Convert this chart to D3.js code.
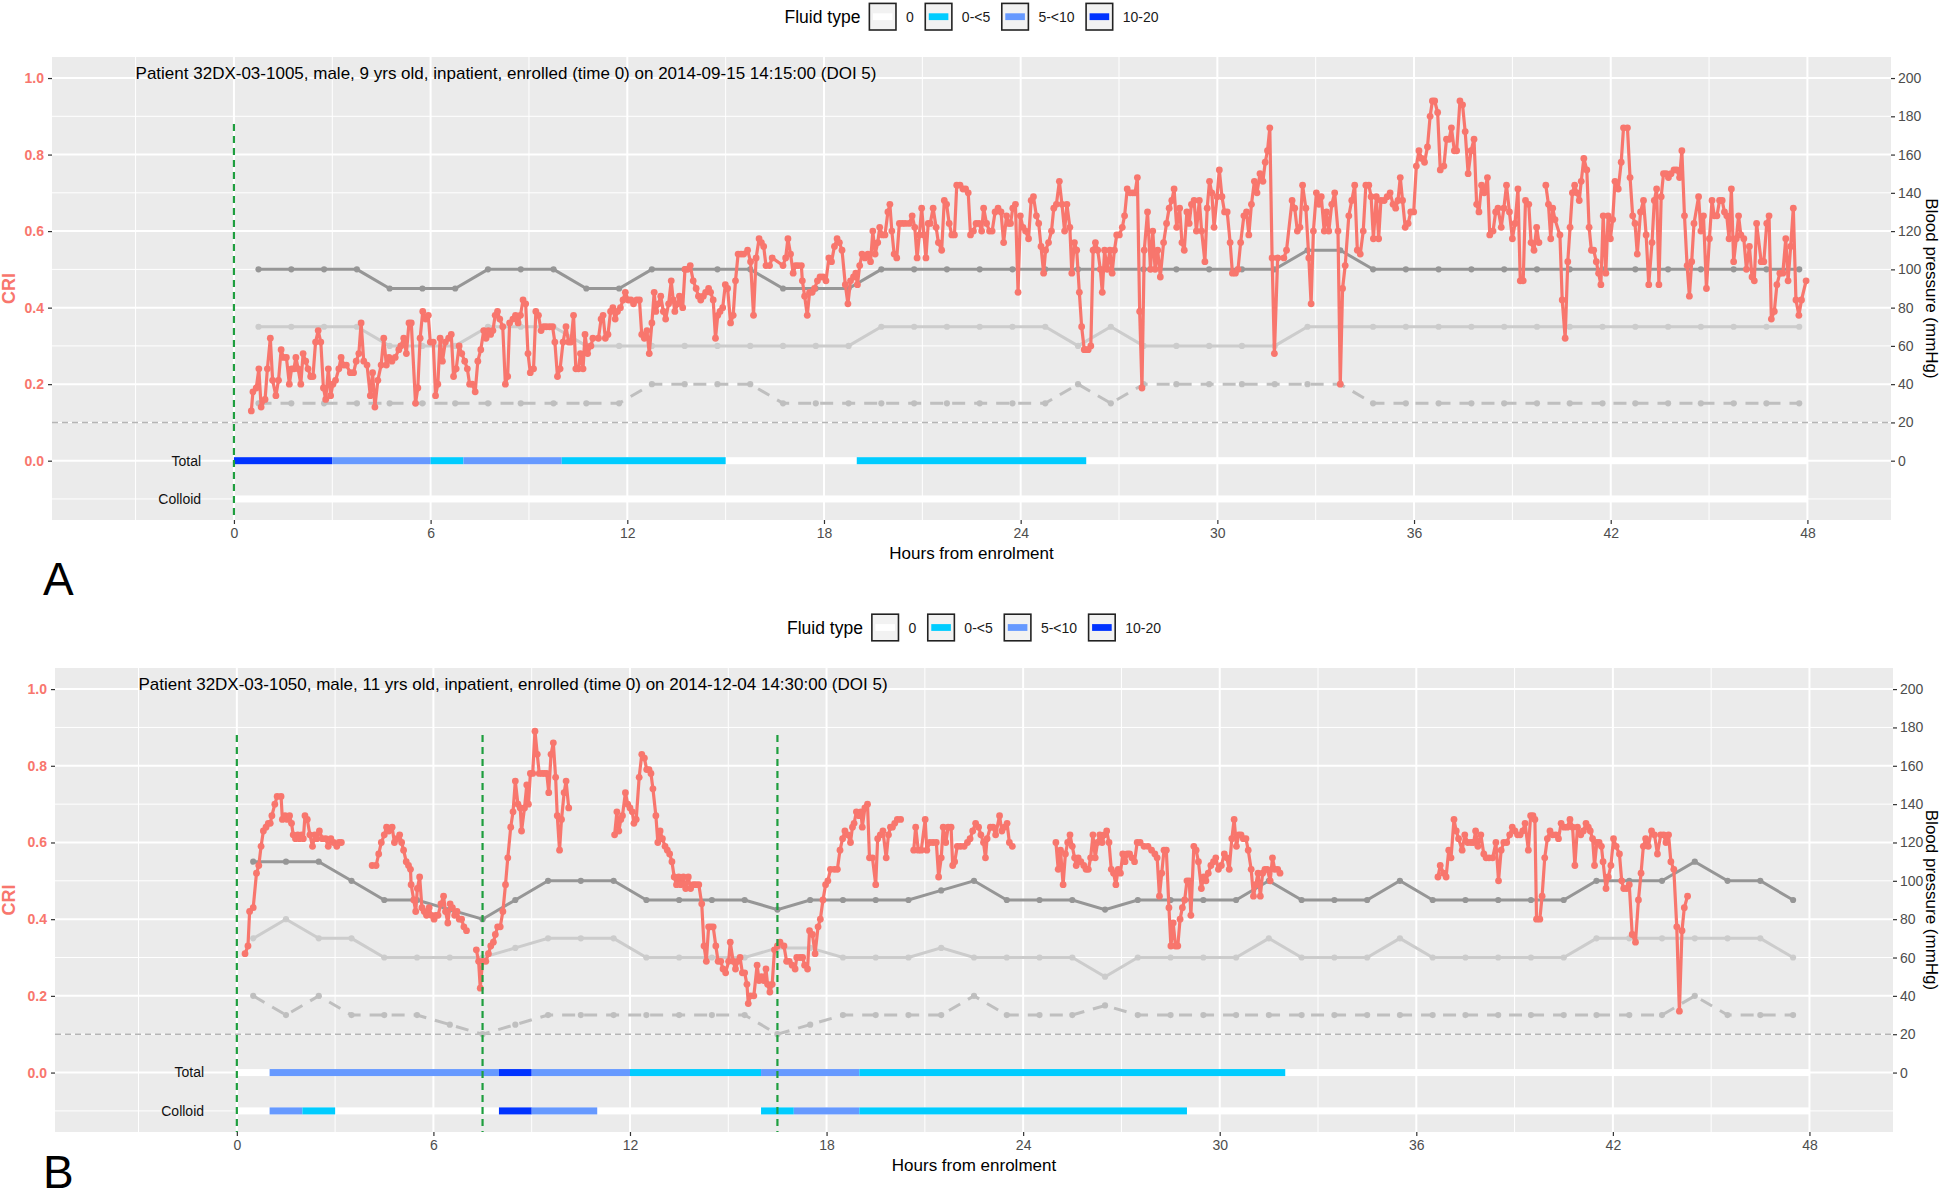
<!DOCTYPE html>
<html>
<head>
<meta charset="utf-8">
<script src="https://cdn.jsdelivr.net/npm/d3@7"></script>
<style>
  body { margin: 0; background: #fff; }
  text { font-family: "Liberation Sans", Arial, sans-serif; }
</style>
</head>
<body>
<script>
// ---- data: patient A ----
const titleA = "Patient 32DX-03-1005, male, 9 yrs old, inpatient, enrolled (time 0) on 2014-09-15 14:15:00 (DOI 5)"
const vitalStartA = 0.75
const sbpA = [100,100,100,100,90,90,90,100,100,100,90,90,100,100,100,100,90,90,90,100,100,100,100,100,100,100,100,100,100,100,100,100,110,110,100,100,100,100,100,100,100,100,100,100,100,100,100,100]
const dbpA = [70,70,70,70,60,60,60,70,70,70,60,60,60,60,60,60,60,60,60,70,70,70,70,70,70,60,70,60,60,60,60,60,70,70,70,70,70,70,70,70,70,70,70,70,70,70,70,70]
const lowA = [30,30,30,30,30,30,30,30,30,30,30,30,40,40,40,40,30,30,30,30,30,30,30,30,30,40,30,40,40,40,40,40,40,40,30,30,30,30,30,30,30,30,30,30,30,30,30,30]
const markersA = [0]
const totalA = [[0,48,"0"],[0,3,"10-20"],[3,6,"5-<10"],[6,7,"0-<5"],[7,10,"5-<10"],[10,15,"0-<5"],[19,26,"0-<5"]]
const colloidA = [[0,48,"0"]]
const criA = [
[0.53,0.13],[0.58,0.18],[0.68,0.19],[0.76,0.24],[0.83,0.14],[0.95,0.16],[1.02,0.24],[1.11,0.32],[1.18,0.21],[1.28,0.17],[1.36,0.21],[1.44,0.29],[1.51,0.27],[1.60,0.27],[1.69,0.20],[1.76,0.24],[1.83,0.24],[1.89,0.27],[1.96,0.24],[2.04,0.20],[2.11,0.28],[2.19,0.26],[2.26,0.24],[2.34,0.22],[2.41,0.22],[2.49,0.31],[2.57,0.34],[2.65,0.31],[2.73,0.19],[2.80,0.16],[2.88,0.24],[2.95,0.17],[3.02,0.20],[3.10,0.21],[3.20,0.24],[3.27,0.27],[3.35,0.25],[3.43,0.25],[3.55,0.23],[3.65,0.23],[3.73,0.26],[3.81,0.28],[3.88,0.36],[3.96,0.26],[4.06,0.25],[4.16,0.17],[4.23,0.23],[4.30,0.14],[4.39,0.21],[4.49,0.25],[4.57,0.32],[4.65,0.25],[4.73,0.27],[4.82,0.26],[4.92,0.27],[5.03,0.29],
[5.09,0.30],[5.18,0.32],[5.26,0.28],[5.34,0.36],[5.41,0.36],[5.54,0.15],[5.61,0.19],[5.68,0.32],[5.76,0.39],[5.85,0.37],[5.93,0.38],[5.99,0.31],[6.08,0.31],[6.15,0.17],[6.22,0.20],[6.29,0.32],[6.36,0.26],[6.45,0.31],[6.55,0.32],[6.63,0.33],[6.70,0.22],[6.78,0.24],[6.87,0.30],[6.95,0.28],[7.04,0.26],[7.12,0.24],[7.19,0.20],[7.27,0.20],[7.36,0.18],[7.44,0.26],[7.53,0.29],[7.62,0.34],[7.69,0.32],[7.76,0.34],[7.83,0.33],[7.90,0.34],[7.97,0.38],[8.04,0.39],[8.11,0.37],[8.20,0.35],[8.28,0.20],[8.35,0.22],[8.41,0.36],[8.51,0.37],[8.59,0.38],[8.67,0.36],[8.74,0.38],[8.82,0.42],[8.90,0.41],[8.97,0.28],[9.04,0.23],[9.14,0.24],[9.21,0.39],[9.29,0.38],[9.37,0.34],[9.45,0.35],[9.53,0.35],[9.63,0.35],[9.72,0.35],[9.79,0.31],[9.87,0.22],[9.95,0.24],[10.04,0.31],[10.13,0.35],[10.21,0.31],[10.28,0.31],[10.36,0.38],[10.43,0.24],[10.51,0.24],[10.57,0.28],[10.65,0.24],[10.71,0.33],[10.79,0.28],[10.89,0.30],[10.95,0.32],[11.12,0.32],[11.20,0.37],[11.26,0.38],[11.33,0.32],[11.41,0.33],[11.49,0.39],[11.56,0.40],[11.63,0.37],[11.70,0.39],[11.79,0.40],[11.87,0.42],[11.94,0.44],[12.03,0.42],[12.11,0.42],[12.19,0.41],[12.29,0.42],[12.37,0.42],[12.44,0.33],[12.52,0.32],[12.60,0.34],[12.67,0.28],[12.75,0.36],[12.82,0.44],[12.87,0.39],[12.95,0.41],[13.02,0.43],[13.10,0.39],[13.17,0.37],[13.26,0.41],[13.34,0.47],[13.40,0.42],[13.45,0.39],[13.54,0.41],[13.59,0.43],[13.69,0.40],[13.76,0.50],[13.84,0.50],[13.92,0.51],[14.01,0.47],[14.10,0.45],[14.17,0.43],[14.24,0.42],[14.32,0.43],[14.39,0.44],[14.48,0.45],[14.54,0.44],[14.62,0.42],[14.69,0.32],[14.76,0.38],[14.83,0.39],[14.91,0.40],[14.99,0.46],[15.06,0.45],[15.15,0.36],[15.23,0.38],[15.30,0.47],[15.38,0.54],[15.47,0.54],[15.55,0.54],[15.67,0.55],[15.76,0.52],[15.85,0.38],[15.93,0.53],[16.02,0.58],[16.09,0.57],[16.16,0.56],[16.23,0.51],[16.34,0.51],[16.42,0.53],
[16.75,0.51],[16.83,0.53],[16.90,0.58],[16.98,0.54],[17.06,0.49],[17.13,0.51],[17.21,0.51],[17.31,0.51],[17.34,0.47],[17.41,0.43],[17.49,0.38],[17.56,0.44],[17.64,0.44],[17.71,0.45],[17.80,0.47],[17.88,0.48],[17.97,0.48],[18.06,0.47],[18.15,0.53],[18.23,0.52],[18.32,0.56],[18.40,0.58],[18.47,0.57],[18.55,0.55],[18.65,0.46],[18.73,0.41],[18.81,0.47],[18.90,0.48],[18.97,0.49],[19.02,0.46],[19.09,0.51],[19.16,0.54],[19.25,0.53],[19.34,0.54],[19.42,0.52],[19.49,0.60],[19.56,0.54],[19.64,0.57],[19.70,0.61],[19.78,0.59],[19.86,0.59],[19.95,0.65],[20.01,0.67],[20.07,0.60],[20.14,0.54],[20.22,0.53],[20.30,0.62],[20.39,0.62],[20.48,0.62],[20.60,0.62],[20.69,0.64],[20.77,0.61],[20.84,0.53],[20.91,0.59],[20.98,0.66],[21.05,0.59],[21.11,0.53],[21.18,0.62],[21.24,0.62],[21.33,0.66],[21.42,0.61],[21.49,0.57],[21.59,0.55],[21.67,0.68],[21.74,0.67],[21.82,0.62],[21.90,0.59],[21.98,0.59],[22.05,0.72],[22.15,0.72],[22.24,0.71],[22.32,0.71],[22.40,0.70],[22.47,0.59],[22.56,0.60],[22.64,0.62],[22.73,0.62],[22.81,0.60],[22.87,0.66],[22.96,0.62],[23.05,0.60],[23.13,0.60],[23.22,0.65],[23.31,0.66],[23.40,0.65],[23.48,0.57],[23.57,0.64],[23.64,0.62],[23.69,0.62],[23.76,0.66],[23.84,0.67],[23.92,0.44],[23.99,0.64],[24.07,0.61],[24.15,0.60],[24.24,0.58],[24.32,0.68],[24.39,0.69],[24.48,0.64],[24.55,0.62],[24.62,0.56],[24.70,0.49],[24.76,0.55],[24.85,0.57],[24.94,0.60],[25.01,0.66],[25.09,0.67],[25.18,0.73],[25.26,0.67],[25.34,0.60],[25.41,0.67],[25.50,0.61],[25.56,0.49],[25.64,0.57],[25.71,0.55],[25.79,0.44],[25.86,0.35],[25.94,0.29],[25.99,0.29],[26.06,0.29],[26.14,0.30],[26.21,0.55],[26.28,0.57],[26.35,0.55],[26.43,0.50],[26.49,0.44],[26.56,0.55],[26.64,0.50],[26.72,0.55],[26.79,0.49],[26.86,0.55],[26.93,0.59],[27.01,0.59],[27.10,0.61],[27.17,0.64],[27.25,0.71],[27.34,0.70],[27.42,0.70],[27.49,0.70],[27.56,0.74],[27.63,0.39],[27.70,0.19],[27.77,0.55],[27.87,0.65],[27.96,0.50],[28.03,0.60],[28.10,0.50],[28.18,0.55],[28.26,0.48],[28.36,0.57],[28.45,0.62],[28.53,0.66],[28.61,0.68],[28.68,0.71],[28.76,0.61],[28.85,0.66],[28.92,0.57],[28.99,0.55],[29.07,0.65],[29.14,0.62],[29.21,0.67],[29.29,0.68],[29.36,0.60],[29.45,0.68],[29.52,0.60],[29.62,0.52],[29.69,0.66],[29.76,0.73],[29.83,0.70],[29.90,0.61],[29.99,0.69],[30.06,0.76],[30.14,0.69],[30.22,0.65],[30.30,0.65],[30.39,0.57],[30.46,0.49],[30.55,0.49],[30.63,0.50],[30.71,0.57],[30.81,0.64],[30.89,0.65],[30.96,0.59],[31.04,0.67],[31.13,0.73],[31.21,0.70],[31.30,0.75],[31.39,0.73],[31.46,0.78],[31.53,0.81],[31.60,0.87],[31.67,0.53],[31.74,0.28],[31.84,0.53],[32.03,0.53],[32.11,0.55],[32.28,0.68],[32.36,0.66],[32.44,0.60],[32.52,0.61],[32.60,0.72],[32.70,0.66],[32.79,0.53],[32.86,0.41],[32.93,0.60],[33.02,0.70],[33.10,0.67],[33.17,0.69],[33.26,0.60],[33.33,0.65],[33.40,0.60],[33.49,0.67],[33.58,0.70],[33.68,0.60],[33.75,0.20],[33.82,0.45],[33.90,0.51],
[34.01,0.64],[34.10,0.68],[34.19,0.72],[34.27,0.55],[34.36,0.54],[34.45,0.60],[34.53,0.72],[34.62,0.72],[34.69,0.69],[34.76,0.58],[34.85,0.69],[34.92,0.58],[34.99,0.68],[35.09,0.68],[35.18,0.69],[35.27,0.70],[35.36,0.67],[35.44,0.66],[35.51,0.68],[35.58,0.74],[35.65,0.68],[35.73,0.61],[35.82,0.62],[35.90,0.65],[35.99,0.65],[36.07,0.77],[36.15,0.81],[36.23,0.79],[36.32,0.78],[36.41,0.82],[36.49,0.90],[36.56,0.94],[36.63,0.94],[36.72,0.91],[36.80,0.76],[36.91,0.77],[36.99,0.84],[37.07,0.84],[37.14,0.87],[37.23,0.81],[37.30,0.81],[37.40,0.94],[37.48,0.93],[37.56,0.86],[37.65,0.75],[37.74,0.81],[37.83,0.84],[37.91,0.67],[37.98,0.65],[38.06,0.72],[38.14,0.70],[38.24,0.74],[38.31,0.59],[38.41,0.60],[38.49,0.65],[38.56,0.66],[38.66,0.61],[38.74,0.66],[38.82,0.72],[38.91,0.65],[39.00,0.58],[39.08,0.62],[39.17,0.71],[39.24,0.47],[39.33,0.47],[39.40,0.68],[39.50,0.67],[39.57,0.57],[39.66,0.55],[39.74,0.61],[39.81,0.57],null,
[40.02,0.72],[40.10,0.67],[40.17,0.58],[40.23,0.66],[40.30,0.63],[40.45,0.59],[40.52,0.42],[40.61,0.32],[40.69,0.52],[40.76,0.61],[40.83,0.70],[40.90,0.72],[40.97,0.70],[41.04,0.68],[41.10,0.73],[41.18,0.79],[41.27,0.76],[41.34,0.61],[41.41,0.55],[41.48,0.55],[41.56,0.52],[41.63,0.49],[41.70,0.46],[41.77,0.64],[41.85,0.49],[41.92,0.64],[41.99,0.58],[42.06,0.63],[42.13,0.73],[42.23,0.71],[42.32,0.78],[42.39,0.87],[42.51,0.87],[42.59,0.74],[42.67,0.64],[42.74,0.62],[42.81,0.54],[42.91,0.65],[43.00,0.68],[43.08,0.59],[43.16,0.46],[43.26,0.57],[43.33,0.68],[43.40,0.71],[43.47,0.46],[43.54,0.69],[43.61,0.75],[43.69,0.75],[43.76,0.74],[43.84,0.75],[43.93,0.76],[44.01,0.76],[44.10,0.74],[44.17,0.81],[44.25,0.64],[44.33,0.51],[44.40,0.43],[44.47,0.52],[44.54,0.62],[44.68,0.69],[44.75,0.60],[44.83,0.64],[44.92,0.45],[45.01,0.58],[45.09,0.68],[45.16,0.64],[45.24,0.64],[45.32,0.68],[45.40,0.68],[45.47,0.65],[45.54,0.64],[45.61,0.58],[45.68,0.71],[45.75,0.52],[45.83,0.58],[45.90,0.64],[45.97,0.59],[46.06,0.58],[46.14,0.50],[46.23,0.56],[46.31,0.48],[46.38,0.47],[46.45,0.62],[46.59,0.52],[46.67,0.52],[46.76,0.62],[46.83,0.64],[46.90,0.37],[46.99,0.39],[47.07,0.46],[47.16,0.49],[47.25,0.49],[47.34,0.58],[47.41,0.47],[47.49,0.56],[47.57,0.66],[47.65,0.42],[47.74,0.38],[47.82,0.42],[47.96,0.47]
]

// ---- data: patient B ----
const titleB = "Patient 32DX-03-1050, male, 11 yrs old, inpatient, enrolled (time 0) on 2014-12-04 14:30:00 (DOI 5)"
const vitalStartB = 0.5
const sbpB = [110,110,110,100,90,90,85,80,90,100,100,100,90,90,90,90,85,90,90,90,90,95,100,90,90,90,85,90,90,90,90,100,90,90,90,100,90,90,90,90,90,100,100,100,110,100,100,90]
const dbpB = [70,80,70,70,60,60,60,60,65,70,70,70,60,60,60,60,65,65,60,60,60,65,60,60,60,60,50,60,60,60,60,70,60,60,60,70,60,60,60,60,60,70,70,70,70,70,70,60]
const lowB = [40,30,40,30,30,30,25,20,25,30,30,30,30,30,30,30,20,25,30,30,30,30,40,30,30,30,35,30,30,30,30,30,30,30,30,30,30,30,30,30,30,30,30,30,40,30,30,30]
const markersB = [0, 7.5, 16.5]
const totalB = [[0,48,"0"],[1,8,"5-<10"],[8,9,"10-20"],[9,12,"5-<10"],[12,16,"0-<5"],[16,19,"5-<10"],[19,32,"0-<5"]]
const colloidB = [[0,48,"0"],[1,2,"5-<10"],[2,3,"0-<5"],[8,9,"10-20"],[9,11,"5-<10"],[16,17,"0-<5"],[17,19,"5-<10"],[19,29,"0-<5"]]
const criB = [
[0.25,0.31],[0.34,0.33],[0.39,0.42],[0.50,0.43],[0.60,0.52],[0.67,0.54],[0.74,0.59],[0.81,0.63],[0.89,0.64],[0.96,0.65],[1.02,0.65],[1.07,0.67],[1.16,0.70],[1.23,0.72],[1.35,0.72],[1.39,0.66],[1.47,0.67],[1.54,0.66],[1.61,0.67],[1.67,0.65],[1.72,0.62],[1.79,0.61],[1.86,0.62],[1.91,0.61],[1.98,0.62],[2.03,0.61],[2.08,0.67],[2.15,0.66],[2.23,0.62],[2.31,0.59],[2.38,0.62],[2.44,0.61],[2.52,0.63],[2.61,0.61],[2.71,0.61],[2.79,0.59],[2.87,0.61],[2.95,0.60],[3.05,0.59],[3.12,0.60],[3.19,0.60],null,
[4.13,0.54],[4.25,0.54],[4.33,0.57],[4.41,0.60],[4.50,0.62],[4.57,0.64],[4.64,0.63],[4.74,0.64],[4.81,0.60],[4.88,0.61],[4.97,0.62],[5.03,0.60],[5.09,0.58],[5.17,0.55],[5.24,0.54],[5.30,0.53],[5.32,0.49],[5.40,0.45],[5.46,0.42],[5.51,0.48],[5.58,0.51],[5.65,0.43],[5.72,0.42],[5.79,0.41],[5.87,0.43],[5.94,0.41],[6.02,0.40],[6.07,0.41],[6.14,0.41],[6.23,0.44],[6.31,0.46],[6.37,0.42],[6.44,0.39],[6.51,0.44],[6.58,0.43],[6.65,0.41],[6.72,0.42],[6.79,0.40],[6.86,0.40],[6.93,0.38],[7.01,0.37],null,
[7.31,0.32],[7.38,0.29],[7.43,0.22],[7.50,0.29],[7.60,0.29],[7.68,0.31],[7.75,0.33],[7.83,0.34],[7.89,0.36],[7.96,0.38],[8.04,0.38],[8.12,0.42],[8.20,0.49],[8.27,0.56],[8.36,0.64],[8.43,0.68],[8.50,0.76],[8.58,0.70],[8.65,0.69],[8.69,0.63],[8.78,0.69],[8.85,0.75],[8.90,0.70],[8.96,0.78],[9.03,0.78],[9.10,0.89],[9.17,0.83],[9.23,0.78],[9.32,0.78],[9.39,0.78],[9.46,0.78],[9.52,0.73],[9.59,0.83],[9.66,0.86],[9.73,0.77],[9.78,0.67],[9.85,0.58],[9.91,0.66],[9.99,0.73],[10.05,0.76],[10.13,0.69],null,
[11.53,0.62],[11.60,0.68],[11.66,0.63],[11.72,0.66],[11.77,0.67],[11.86,0.73],[11.93,0.70],[12.00,0.69],[12.07,0.68],[12.12,0.65],[12.19,0.66],[12.28,0.77],[12.36,0.83],[12.44,0.82],[12.51,0.79],[12.58,0.79],[12.64,0.78],[12.70,0.74],[12.79,0.67],[12.85,0.60],[12.92,0.63],[12.99,0.61],[13.07,0.59],[13.14,0.58],[13.21,0.57],[13.28,0.55],[13.35,0.51],[13.42,0.49],[13.49,0.51],[13.55,0.49],[13.63,0.51],[13.70,0.48],[13.78,0.51],[13.85,0.48],[13.93,0.49],[14.01,0.49],[14.10,0.49],[14.19,0.44],[14.26,0.33],[14.33,0.29],[14.40,0.38],[14.47,0.38],[14.54,0.38],[14.62,0.33],[14.69,0.29],[14.77,0.29],[14.84,0.27],[14.92,0.26],[15.01,0.29],[15.06,0.34],[15.15,0.29],[15.22,0.27],[15.29,0.29],[15.36,0.30],[15.43,0.26],[15.50,0.26],[15.57,0.23],[15.61,0.18],[15.68,0.20],[15.78,0.20],[15.88,0.28],[15.94,0.24],[16.01,0.25],[16.08,0.24],[16.15,0.27],[16.20,0.23],[16.27,0.21],[16.34,0.23],[16.41,0.32],[16.50,0.33],[16.58,0.34],[16.70,0.33],[16.78,0.29],[16.86,0.29],[16.95,0.28],[17.04,0.27],[17.09,0.30],[17.19,0.30],[17.27,0.30],[17.33,0.28],[17.42,0.27],[17.48,0.37],[17.57,0.36],[17.65,0.31],[17.74,0.38],[17.81,0.40],[17.89,0.45],[17.97,0.49],[18.04,0.50],[18.12,0.53],[18.24,0.53],[18.33,0.53],[18.41,0.58],[18.49,0.61],[18.56,0.63],[18.65,0.62],[18.73,0.60],[18.79,0.64],[18.84,0.65],[18.91,0.68],[18.99,0.67],[19.05,0.68],[19.09,0.64],[19.17,0.69],[19.25,0.70],[19.31,0.56],[19.40,0.56],[19.50,0.49],[19.56,0.61],[19.64,0.62],[19.72,0.63],[19.82,0.56],[19.89,0.62],[19.95,0.64],[20.01,0.64],[20.08,0.65],[20.16,0.66],[20.26,0.66],null,
[20.66,0.58],[20.72,0.64],[20.80,0.58],[20.89,0.58],[21.01,0.66],[21.06,0.58],[21.15,0.60],[21.25,0.60],[21.35,0.60],[21.42,0.51],[21.50,0.56],[21.56,0.64],[21.64,0.60],[21.71,0.64],[21.80,0.64],[21.85,0.54],[21.91,0.55],[21.99,0.59],[22.09,0.59],[22.20,0.59],[22.30,0.60],[22.38,0.61],[22.46,0.63],[22.55,0.65],[22.64,0.64],[22.71,0.62],[22.79,0.60],[22.85,0.56],[22.90,0.61],[23.00,0.64],[23.08,0.64],[23.16,0.62],[23.28,0.67],[23.35,0.63],[23.43,0.64],[23.51,0.65],[23.58,0.60],[23.67,0.59],null,
[25.00,0.60],[25.07,0.53],[25.14,0.58],[25.22,0.49],[25.29,0.57],[25.36,0.60],[25.43,0.62],[25.50,0.59],[25.57,0.56],[25.62,0.54],[25.68,0.56],[25.76,0.55],[25.85,0.54],[25.92,0.53],[25.99,0.53],[26.06,0.56],[26.13,0.62],[26.20,0.56],[26.27,0.60],[26.34,0.62],[26.41,0.60],[26.48,0.62],[26.55,0.63],[26.62,0.60],[26.69,0.53],[26.76,0.52],[26.83,0.49],[26.90,0.53],[26.97,0.52],[27.04,0.57],[27.11,0.55],[27.18,0.57],[27.25,0.57],[27.32,0.56],[27.40,0.55],[27.48,0.60],[27.57,0.60],[27.69,0.59],[27.81,0.59],[27.92,0.58],[28.02,0.57],[28.09,0.56],[28.16,0.46],[28.23,0.52],[28.30,0.58],[28.37,0.58],[28.45,0.43],[28.51,0.33],[28.58,0.39],[28.65,0.33],[28.72,0.33],[28.79,0.40],[28.86,0.43],[28.93,0.45],[29.00,0.50],[29.07,0.50],[29.12,0.41],[29.21,0.59],[29.28,0.58],[29.35,0.55],[29.44,0.48],[29.51,0.51],[29.58,0.50],[29.65,0.52],[29.73,0.54],[29.81,0.55],[29.88,0.56],[29.96,0.53],[30.05,0.54],[30.14,0.57],[30.22,0.56],[30.29,0.53],[30.37,0.61],[30.44,0.66],[30.51,0.59],[30.58,0.62],[30.65,0.62],[30.72,0.61],[30.80,0.61],[30.87,0.58],[30.96,0.53],[31.03,0.46],[31.10,0.49],[31.17,0.52],[31.24,0.46],[31.31,0.52],[31.38,0.53],[31.45,0.53],[31.54,0.50],[31.61,0.56],[31.68,0.53],[31.77,0.53],[31.84,0.52],null,
[36.66,0.51],[36.73,0.54],[36.83,0.52],[36.91,0.51],[36.99,0.58],[37.06,0.56],[37.15,0.66],[37.22,0.63],[37.29,0.61],[37.40,0.58],[37.48,0.62],[37.57,0.60],[37.67,0.60],[37.75,0.60],[37.81,0.63],[37.88,0.59],[37.97,0.62],[38.06,0.57],[38.13,0.56],[38.22,0.56],[38.33,0.56],[38.43,0.60],[38.51,0.50],[38.59,0.58],[38.67,0.60],[38.76,0.60],[38.85,0.62],[38.93,0.64],[39.01,0.63],[39.09,0.62],[39.17,0.62],[39.25,0.63],[39.32,0.65],[39.42,0.58],[39.49,0.67],[39.56,0.67],[39.62,0.66],[39.67,0.40],[39.77,0.40],[39.84,0.46],[39.92,0.56],[40.00,0.61],[40.08,0.63],[40.16,0.62],[40.26,0.62],[40.34,0.61],[40.42,0.65],[40.51,0.64],[40.61,0.64],[40.69,0.66],[40.77,0.64],[40.84,0.54],[40.92,0.64],[41.02,0.62],[41.10,0.63],[41.18,0.65],[41.25,0.64],[41.31,0.63],[41.38,0.61],[41.44,0.54],[41.51,0.60],[41.58,0.60],[41.65,0.59],[41.70,0.55],[41.79,0.48],[41.86,0.51],[41.94,0.54],[42.02,0.61],[42.10,0.59],[42.20,0.57],[42.27,0.50],[42.33,0.48],[42.42,0.48],[42.50,0.49],[42.59,0.36],[42.69,0.34],[42.78,0.45],[42.86,0.52],[42.93,0.59],[43.00,0.61],[43.08,0.59],[43.18,0.63],[43.27,0.62],[43.36,0.57],[43.46,0.62],[43.55,0.62],[43.62,0.60],[43.70,0.62],[43.77,0.55],[43.86,0.53],[43.95,0.38],[44.03,0.16],[44.11,0.37],[44.18,0.43],[44.28,0.46]
]

// ---- shared ----
const fluidTypes = ["0", "0-<5", "5-<10", "10-20"]
const fluidColors = ["#FFFFFF", "#00CCFF", "#6699FF", "#0033FF"]
const xTicks = [0, 6, 12, 18, 24, 30, 36, 42, 48]
const criTicks = [0, 0.2, 0.4, 0.6, 0.8, 1.0]
const bpTicks = [0, 20, 40, 60, 80, 100, 120, 140, 160, 180, 200]

const width = 1944, height = 1198
const svg = d3.select("body").append("svg")
    .attr("width", width).attr("height", height)

const fluidColor = d3.scaleOrdinal().domain(fluidTypes).range(fluidColors)

function drawPanel(p) {
  const x = d3.scaleLinear().domain([-5.55, 50.55]).range([p.left, p.left + p.w])
  const y = d3.scaleLinear().domain([-0.155, 1.055]).range([p.top + p.h, p.top])
  const y2 = d3.scaleLinear().domain([-0.155 * 200, 1.055 * 200]).range([p.top + p.h, p.top])
  const g = svg.append("g")

  // legend
  const leg = g.append("g")
  const lt = leg.append("text").attr("x", 0).attr("y", p.legendY + 6)
      .attr("font-size", 17.5).attr("fill", "#000").text("Fluid type")
  let cx = lt.node().getComputedTextLength() + 9
  fluidTypes.forEach((t, i) => {
    leg.append("rect").attr("x", cx).attr("y", p.legendY - 13.3)
        .attr("width", 26.6).attr("height", 26.6)
        .attr("fill", "#F2F2F2").attr("stroke", "#222").attr("stroke-width", 1.6)
    leg.append("rect").attr("x", cx + 3.5).attr("y", p.legendY - 3.4)
        .attr("width", 19.6).attr("height", 6.8).attr("fill", fluidColors[i])
    cx += 26.6 + 10
    const tt = leg.append("text").attr("x", cx).attr("y", p.legendY + 5)
        .attr("font-size", 14).attr("fill", "#1a1a1a").text(t)
    cx += tt.node().getComputedTextLength() + 11.5
  })
  cx -= 11.5
  leg.attr("transform", `translate(${p.left + p.w / 2 - cx / 2},0)`)

  // panel background + grid
  g.append("rect").attr("x", p.left).attr("y", p.top).attr("width", p.w).attr("height", p.h)
      .attr("fill", "#EBEBEB")
  const minorX = d3.range(-3, 48, 6), minorY = d3.range(-0.1, 1, 0.2)
  g.selectAll(".mx").data(minorX).join("line")
      .attr("x1", d => x(d)).attr("x2", d => x(d)).attr("y1", p.top).attr("y2", p.top + p.h)
      .attr("stroke", "#fff").attr("stroke-width", 1)
  g.selectAll(".my").data(minorY).join("line")
      .attr("y1", d => y(d)).attr("y2", d => y(d)).attr("x1", p.left).attr("x2", p.left + p.w)
      .attr("stroke", "#fff").attr("stroke-width", 1)
  g.selectAll(".Mx").data(xTicks).join("line")
      .attr("x1", d => x(d)).attr("x2", d => x(d)).attr("y1", p.top).attr("y2", p.top + p.h)
      .attr("stroke", "#fff").attr("stroke-width", 2)
  g.selectAll(".My").data(criTicks).join("line")
      .attr("y1", d => y(d)).attr("y2", d => y(d)).attr("x1", p.left).attr("x2", p.left + p.w)
      .attr("stroke", "#fff").attr("stroke-width", 2)

  // reference line at CRI 0.1
  g.append("line").attr("x1", p.left).attr("x2", p.left + p.w)
      .attr("y1", y(0.1)).attr("y2", y(0.1))
      .attr("stroke", "#B5B5B5").attr("stroke-width", 1.5).attr("stroke-dasharray", "6,4")

  // fluid bars
  const rows = [[0, p.total], [-0.1, p.colloid]]
  rows.forEach(([ry, segs]) => {
    g.append("g").selectAll("rect").data(segs).join("rect")
        .attr("x", d => x(d[0])).attr("width", d => x(d[1]) - x(d[0]))
        .attr("y", y(ry) - 3.5).attr("height", 7)
        .attr("fill", d => fluidColor(d[2]))
  })
  g.append("text").attr("x", x(-1)).attr("y", y(0)).attr("dy", "0.35em")
      .attr("text-anchor", "end").attr("font-size", 14).attr("fill", "#111").text("Total")
  g.append("text").attr("x", x(-1)).attr("y", y(-0.1)).attr("dy", "0.35em")
      .attr("text-anchor", "end").attr("font-size", 14).attr("fill", "#111").text("Colloid")

  // blood pressure series (hourly)
  const bpSeries = [
    { v: p.low, color: "#BFBFBF", dash: "13,9" },
    { v: p.dbp, color: "#CCCCCC", dash: null },
    { v: p.sbp, color: "#969696", dash: null }
  ]
  const bpLine = d3.line().x(d => x(d[0])).y(d => y2(d[1]))
  bpSeries.forEach(s => {
    const pts = s.v.map((v, k) => [p.start + k, v])
    g.append("path").datum(pts).attr("d", bpLine)
        .attr("fill", "none").attr("stroke", s.color).attr("stroke-width", 3)
        .attr("stroke-dasharray", s.dash)
    g.append("g").selectAll("circle").data(pts).join("circle")
        .attr("cx", d => x(d[0])).attr("cy", d => y2(d[1])).attr("r", 3.1)
        .attr("fill", s.color)
  })

  // CRI
  const criLine = d3.line().defined(d => d != null).x(d => x(d[0])).y(d => y(d[1]))
  g.append("path").datum(p.cri).attr("d", criLine)
      .attr("fill", "none").attr("stroke", "#F8766D").attr("stroke-width", 3.2)
      .attr("stroke-linejoin", "round")
  g.append("g").selectAll("circle").data(p.cri.filter(d => d)).join("circle")
      .attr("cx", d => x(d[0])).attr("cy", d => y(d[1])).attr("r", 3.4)
      .attr("fill", "#F8766D")

  // fluid bolus markers
  g.selectAll(".mk").data(p.markers).join("line")
      .attr("x1", d => x(d)).attr("x2", d => x(d))
      .attr("y1", y(0.88)).attr("y2", p.top + p.h)
      .attr("stroke", "#1E9E3E").attr("stroke-width", 2.2).attr("stroke-dasharray", "7,5")

  // title
  g.append("text").attr("x", x(-3)).attr("y", y(1.0) + 1)
      .attr("font-size", 17).attr("fill", "#000").text(p.title)

  // axes
  const ax = g.append("g").attr("transform", `translate(0,${p.top + p.h})`)
      .call(d3.axisBottom(x).tickValues(xTicks).tickSize(4).tickPadding(4))
  const al = g.append("g").attr("transform", `translate(${p.left},0)`)
      .call(d3.axisLeft(y).tickValues(criTicks).tickFormat(d3.format(".1f")).tickSize(4).tickPadding(4))
  const ar = g.append("g").attr("transform", `translate(${p.left + p.w},0)`)
      .call(d3.axisRight(y2).tickValues(bpTicks).tickSize(4).tickPadding(3))
  ;[ax, al, ar].forEach(a => {
    a.select(".domain").remove()
    a.selectAll(".tick line").attr("stroke", "#333").attr("stroke-width", 1.2)
    a.selectAll(".tick text").attr("font-size", 14).attr("fill", "#4D4D4D")
        .attr("font-family", '"Liberation Sans", Arial, sans-serif')
  })
  al.selectAll(".tick text").attr("fill", "#F8766D").attr("font-weight", "bold")

  g.append("text").attr("x", p.left + p.w / 2).attr("y", p.top + p.h + 39)
      .attr("text-anchor", "middle").attr("font-size", 17).attr("fill", "#000")
      .text("Hours from enrolment")
  const cy = p.top + p.h / 2
  g.append("text").attr("transform", `translate(9,${cy}) rotate(-90)`)
      .attr("text-anchor", "middle").attr("dy", "0.35em")
      .attr("font-size", 18).attr("font-weight", "bold").attr("fill", "#F8766D").text("CRI")
  g.append("text").attr("transform", `translate(1932,${cy}) rotate(90)`)
      .attr("text-anchor", "middle").attr("dy", "0.35em")
      .attr("font-size", 17).attr("fill", "#000").text("Blood pressure (mmHg)")

  svg.append("text").attr("x", 43).attr("y", p.letterY)
      .attr("font-family", '"Liberation Serif", "Times New Roman", serif')
      .attr("font-size", 46).attr("fill", "#000").text(p.letter)
}

drawPanel({ left: 52, top: 57, w: 1839, h: 463, legendY: 16.7, letter: "A", letterY: 595,
  title: titleA, start: vitalStartA, sbp: sbpA, dbp: dbpA, low: lowA, cri: criA,
  markers: markersA, total: totalA, colloid: colloidA })
drawPanel({ left: 55, top: 668, w: 1838, h: 464, legendY: 627.5, letter: "B", letterY: 1188,
  title: titleB, start: vitalStartB, sbp: sbpB, dbp: dbpB, low: lowB, cri: criB,
  markers: markersB, total: totalB, colloid: colloidB })
</script>
</body>
</html>
